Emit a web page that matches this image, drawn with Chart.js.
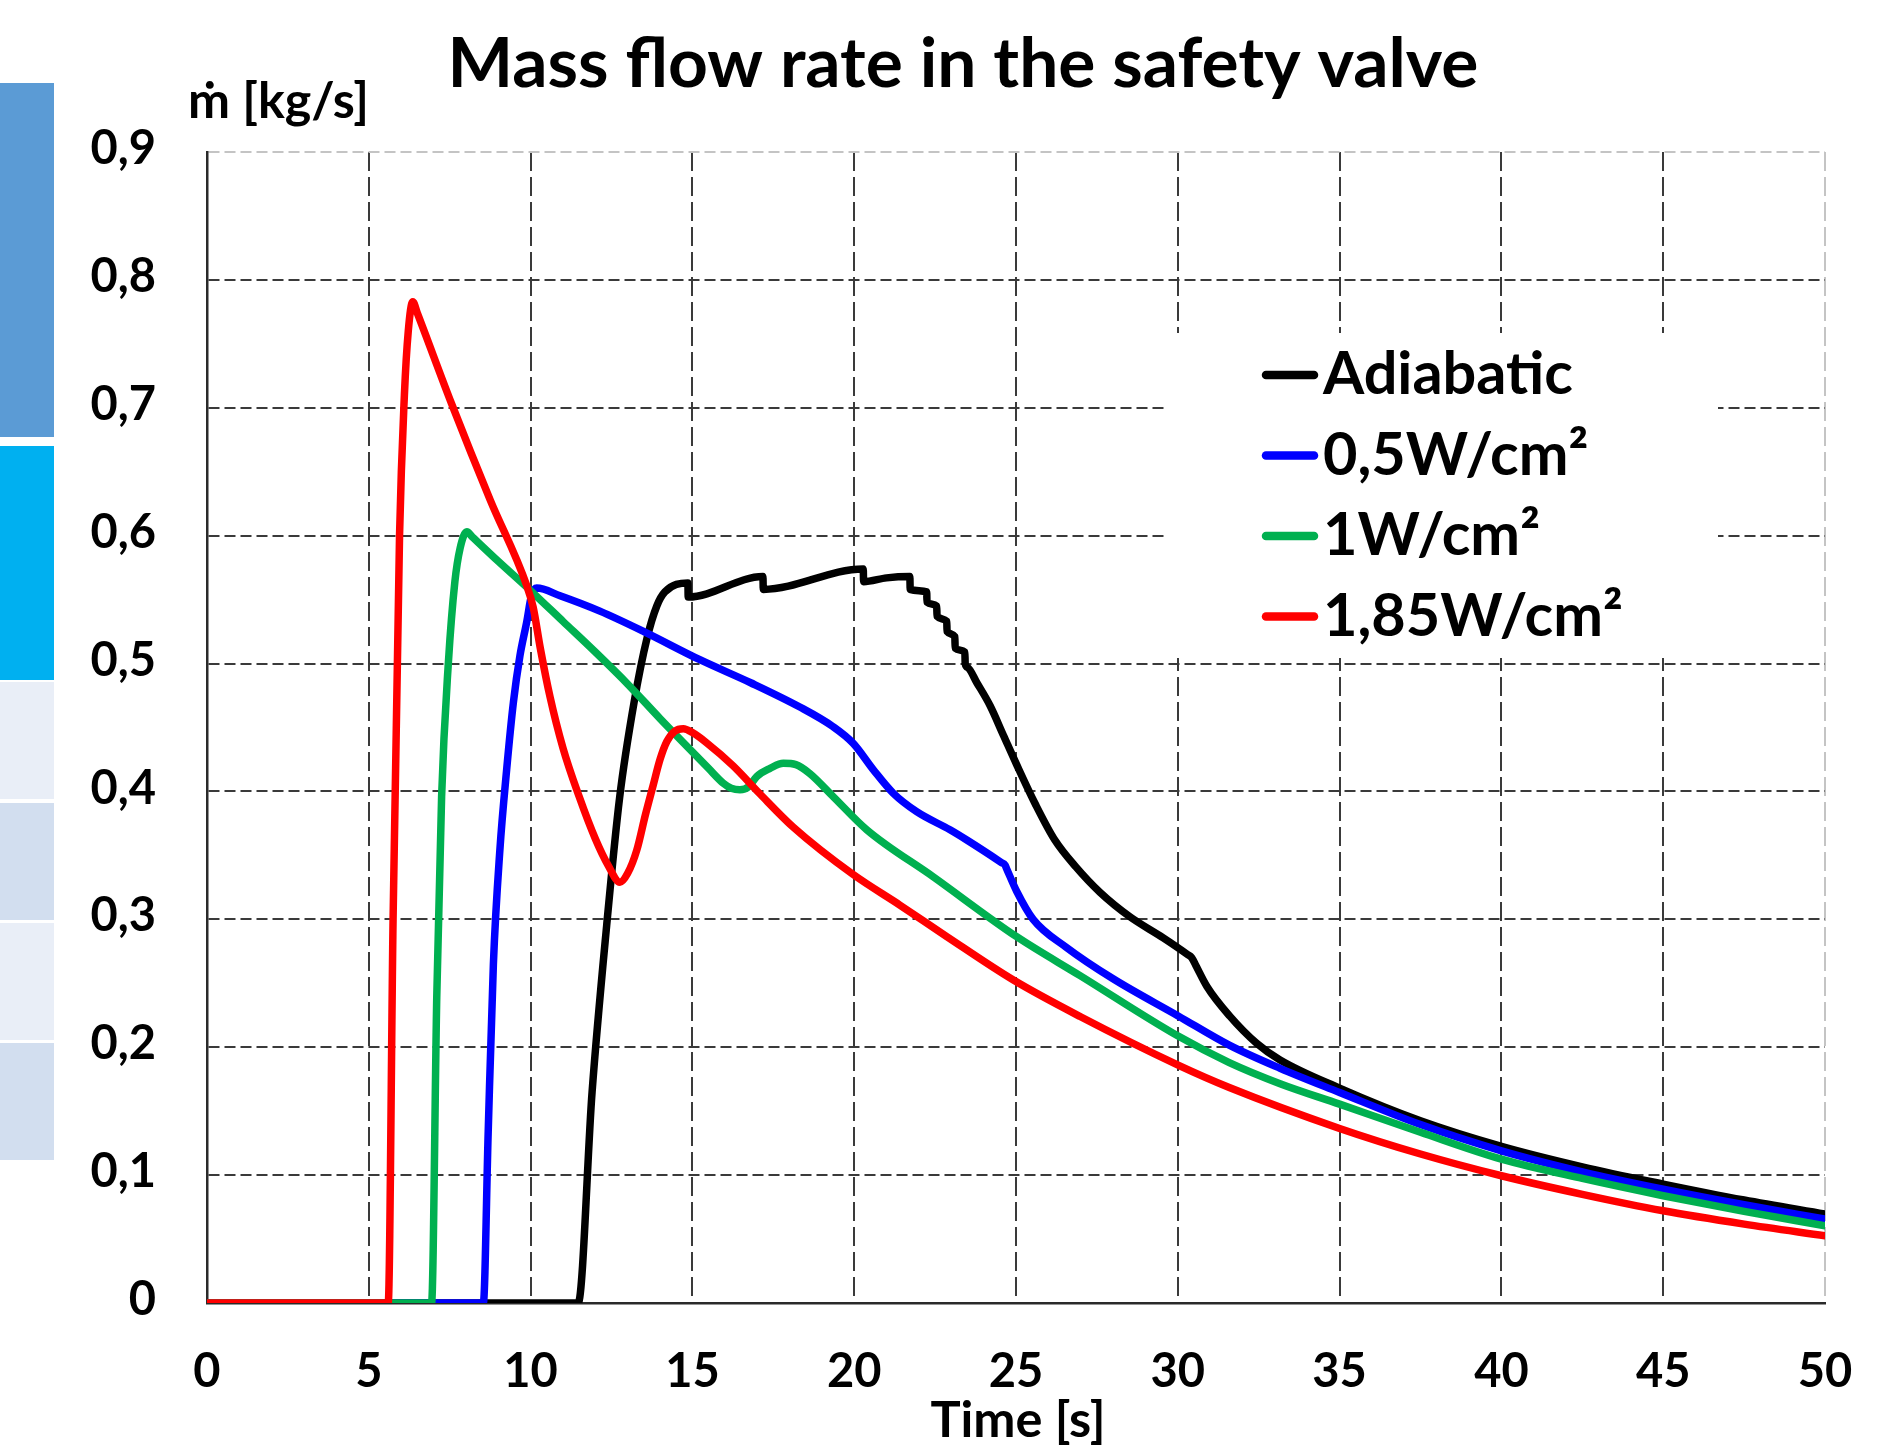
<!DOCTYPE html>
<html>
<head>
<meta charset="utf-8">
<script src="https://cdn.jsdelivr.net/npm/chart.js"></script>
<style>
html, body { margin:0; padding:0; background:#ffffff; }
#wrap { position:relative; width:1879px; height:1445px; overflow:hidden; background:#ffffff; }
#chart { position:absolute; left:0; top:0; }
.band { position:absolute; left:0; width:54px; }
</style>
</head>
<body>
<div id="wrap">
  <div class="band" style="top:83px;height:354px;background:#5B9BD5"></div>
  <div class="band" style="top:446px;height:234px;background:#00B0F0"></div>
  <div class="band" style="top:682px;height:117px;background:#E9EEF7"></div>
  <div class="band" style="top:803px;height:117px;background:#D2DEEF"></div>
  <div class="band" style="top:923px;height:117px;background:#E9EEF7"></div>
  <div class="band" style="top:1043px;height:117px;background:#D2DEEF"></div>
  <canvas id="chart" width="1879" height="1445"></canvas>
</div>
<script>
// ---- texts ----
const titleText = 'Mass flow rate in the safety valve';
const yAxisTitle = 'ṁ [kg/s]';
const xAxisTitle = 'Time [s]';

// ---- tick labels ----
const xTickLabels = ['0', '5', '10', '15', '20', '25', '30', '35', '40', '45', '50'];
const yTickLabels = ['0', '0,1', '0,2', '0,3', '0,4', '0,5', '0,6', '0,7', '0,8', '0,9'];

// ---- series ----
const seriesNames = ['Adiabatic', '0,5W/cm²', '1W/cm²', '1,85W/cm²'];
const seriesColors = ['#000000', '#0000FF', '#00B050', '#FF0000'];

const adiabaticTime = [0, 11.47, 11.9, 12.35, 12.75, 13.2, 13.6, 13.9, 14.15, 14.86, 14.87, 17.18, 17.19, 20.28, 20.29, 21.0,
  21.72, 21.73, 22.24, 22.25, 22.55, 22.56, 22.86, 22.87, 23.11, 23.12, 23.42, 23.43, 23.5, 23.79, 24.2, 24.61, 25.02, 25.6,
  26.2, 26.85, 27.6, 28.52, 29.55, 30.3, 30.43, 30.55, 30.9, 31.6, 32.44, 33.16, 35, 37.5, 40, 42.5, 45, 47.5, 50];
const adiabaticFlow = [0, 0, 0.165, 0.295, 0.395, 0.47, 0.52, 0.545, 0.556, 0.563, 0.552, 0.568, 0.558, 0.574, 0.564, 0.567,
  0.568, 0.558, 0.556, 0.548, 0.545, 0.537, 0.533, 0.525, 0.521, 0.512, 0.509, 0.500, 0.497, 0.485, 0.467, 0.444, 0.421, 0.390,
  0.362, 0.341, 0.321, 0.302, 0.2855, 0.2725, 0.270, 0.2643, 0.2475, 0.2245, 0.203, 0.19, 0.168, 0.1425, 0.1225, 0.1065, 0.093,
  0.0805, 0.0695];

const w05Time = [0, 8.54, 8.69, 8.85, 9.05, 9.26, 9.47, 9.67, 9.88, 10.03, 10.19, 10.91, 12.14, 13.5, 15.23, 16.8, 18.32,
  19.35, 19.97, 20.6, 21.21, 21.93, 22.96, 23.48, 24.55, 24.66, 24.72, 25.02, 25.53, 26.56, 28.0, 30.01, 31.59, 33.16, 35,
  37.5, 40, 42.5, 45, 47.5, 50];
const w05Flow = [0, 0, 0.134, 0.265, 0.354, 0.417, 0.47, 0.506, 0.5325, 0.5535, 0.559, 0.553, 0.541, 0.525, 0.503, 0.485, 0.466,
  0.4506, 0.4376, 0.4167, 0.3985, 0.3842, 0.370, 0.362, 0.3444, 0.3425, 0.339, 0.322, 0.300, 0.278, 0.2535, 0.2245, 0.2016,
  0.1835, 0.1646, 0.1395, 0.119, 0.1026, 0.089, 0.0768, 0.0656];

const w1Time = [0, 6.94, 7.1, 7.25, 7.46, 7.66, 7.82, 8.03, 8.2, 9.0, 10.0, 11.0, 12.0, 13.0, 14.0, 15.0, 15.5, 15.96, 16.2,
  16.47, 16.75, 16.99, 17.4, 17.81, 18.2, 18.63, 19.35, 20.39, 22.44, 25.02, 26.98, 30.01, 31.59, 33.16, 35, 37.5, 40, 42.5,
  45, 47.5, 50];
const w1Flow = [0, 0, 0.239, 0.396, 0.501, 0.564, 0.59, 0.603, 0.599, 0.580, 0.557, 0.533, 0.509, 0.484, 0.457, 0.431, 0.418,
  0.4063, 0.4025, 0.4013, 0.404, 0.4117, 0.418, 0.422, 0.421, 0.414, 0.396, 0.370, 0.3333, 0.2864, 0.256, 0.2087, 0.188, 0.1715,
  0.1555, 0.1335, 0.1125, 0.0974, 0.0839, 0.0716, 0.0604];

const w185Time = [0, 5.6, 5.75, 5.95, 6.1, 6.22, 6.36, 6.5, 7.56, 8.75, 9.88, 10.08, 10.3, 10.6, 11.0, 11.5, 12.0, 12.4, 12.76,
  13.0, 13.28, 13.55, 13.79, 14.0, 14.21, 14.45, 14.72, 15.0, 15.44, 16.26, 17.09, 18.12, 19.97, 21.42, 22.86, 24.92, 26.98,
  30.01, 31.59, 35, 37.5, 40, 42.5, 45, 47.5, 50];
const w185Flow = [0, 0, 0.3, 0.6, 0.71, 0.76, 0.783, 0.774, 0.703, 0.628, 0.561, 0.544, 0.512, 0.474, 0.434, 0.396, 0.363, 0.342,
  0.329, 0.336, 0.354, 0.382, 0.405, 0.425, 0.439, 0.447, 0.449, 0.446, 0.438, 0.42, 0.398, 0.372, 0.335, 0.311, 0.2865, 0.2525,
  0.224, 0.186, 0.1685, 0.1365, 0.1165, 0.0995, 0.085, 0.0721, 0.0617, 0.0526];

const seriesTimes = [adiabaticTime, w05Time, w1Time, w185Time];
const seriesFlows = [adiabaticFlow, w05Flow, w1Flow, w185Flow];

function toPoints(t, m) { return t.map((x, i) => ({ x: x, y: m[i] })); }

const FONT = 'Lato, "Open Sans", sans-serif';

function fittedSize(ctx, text, targetWidth) {
  ctx.font = 'bold 100px ' + FONT;
  const w = ctx.measureText(text).width;
  return 100 * targetWidth / w;
}

const overlay = {
  id: 'overlay',
  beforeDatasetsDraw(chart) {
    const ctx = chart.ctx;
    ctx.save();
    ctx.fillStyle = '#ffffff';
    ctx.fillRect(1165, 333, 553, 325);
    ctx.restore();
  },
  afterDraw(chart) {
    const ctx = chart.ctx;
    const area = chart.chartArea;
    ctx.save();
    ctx.fillStyle = '#000000';
    ctx.textBaseline = 'alphabetic';

    let s = fittedSize(ctx, titleText, 1031);
    ctx.font = 'bold ' + s + 'px ' + FONT;
    ctx.textAlign = 'center';
    ctx.fillText(titleText, 963, 87);

    s = fittedSize(ctx, yAxisTitle, 181);
    ctx.font = 'bold ' + s + 'px ' + FONT;
    ctx.textAlign = 'left';
    ctx.fillText(yAxisTitle, 188, 118);

    s = fittedSize(ctx, xAxisTitle, 175);
    ctx.font = 'bold ' + s + 'px ' + FONT;
    ctx.textAlign = 'center';
    ctx.fillText(xAxisTitle, (area.left + area.right) / 2 + 2, 1437);

    // legend
    const ls = fittedSize(ctx, chart.data.datasets[0].label, 250);
    chart.data.datasets.forEach((ds, i) => {
      const base = 394 + i * 80.5;
      ctx.strokeStyle = ds.borderColor;
      ctx.lineWidth = 8.5;
      ctx.lineCap = 'round';
      ctx.beginPath();
      ctx.moveTo(1266, base - 19);
      ctx.lineTo(1314, base - 19);
      ctx.stroke();
      ctx.fillStyle = '#000000';
      ctx.font = 'bold ' + ls + 'px ' + FONT;
      ctx.textAlign = 'left';
      ctx.fillText(ds.label, 1323, base);
    });
    ctx.restore();
  }
};

const tickFont = { family: FONT, size: 47, weight: 'bold' };

const datasets = seriesNames.map((name, i) => ({
  label: name,
  data: toPoints(seriesTimes[i], seriesFlows[i]),
  borderColor: seriesColors[i],
  backgroundColor: seriesColors[i],
  borderWidth: 7.5,
  pointRadius: 0,
  cubicInterpolationMode: 'monotone',
  fill: false,
  borderJoinStyle: 'round',
  borderCapStyle: 'round',
  order: 3 - i
}));

new Chart(document.getElementById('chart'), {
  type: 'line',
  data: { datasets: datasets },
  options: {
    responsive: false,
    animation: false,
    devicePixelRatio: 1,
    layout: { padding: { left: 60, right: 54, top: 152, bottom: 0 } },
    plugins: {
      legend: { display: false },
      tooltip: { enabled: false },
      title: { display: false }
    },
    scales: {
      x: {
        type: 'linear',
        min: 0, max: 50,
        ticks: {
          stepSize: 5, autoSkip: false, maxRotation: 0, padding: 0, color: '#000000', font: tickFont,
          callback: (v) => xTickLabels[Math.round(v / 5)]
        },
        grid: {
          drawTicks: true, tickLength: 41, tickColor: 'rgba(0,0,0,0)', lineWidth: 2,
          color: (c) => {
            const v = c.tick ? c.tick.value : null;
            if (v === 0) return 'rgba(0,0,0,0)';
            if (v === 50) return '#c4c4c4';
            return '#3a3a3a';
          }
        },
        border: { display: true, color: '#2a2a2a', width: 2.5, dash: [19, 6] },
        afterFit: (scale) => { scale.height = 142; }
      },
      y: {
        type: 'linear',
        min: 0, max: 0.9,
        ticks: {
          stepSize: 0.1, padding: 0, color: '#000000', font: tickFont, labelOffset: -3,
          callback: (v) => yTickLabels[Math.round(v * 10)]
        },
        grid: {
          drawTicks: true, tickLength: 51, tickColor: 'rgba(0,0,0,0)', lineWidth: 2,
          color: (c) => {
            const v = c.tick ? Math.round(c.tick.value * 10) : null;
            if (v === 0) return 'rgba(0,0,0,0)';
            if (v === 9) return '#c4c4c4';
            return '#3a3a3a';
          }
        },
        border: { display: true, color: '#2a2a2a', width: 2.5, dash: [11, 5] },
        afterFit: (scale) => { scale.width = 147; }
      }
    }
  },
  plugins: [overlay]
});
</script>
</body>
</html>
